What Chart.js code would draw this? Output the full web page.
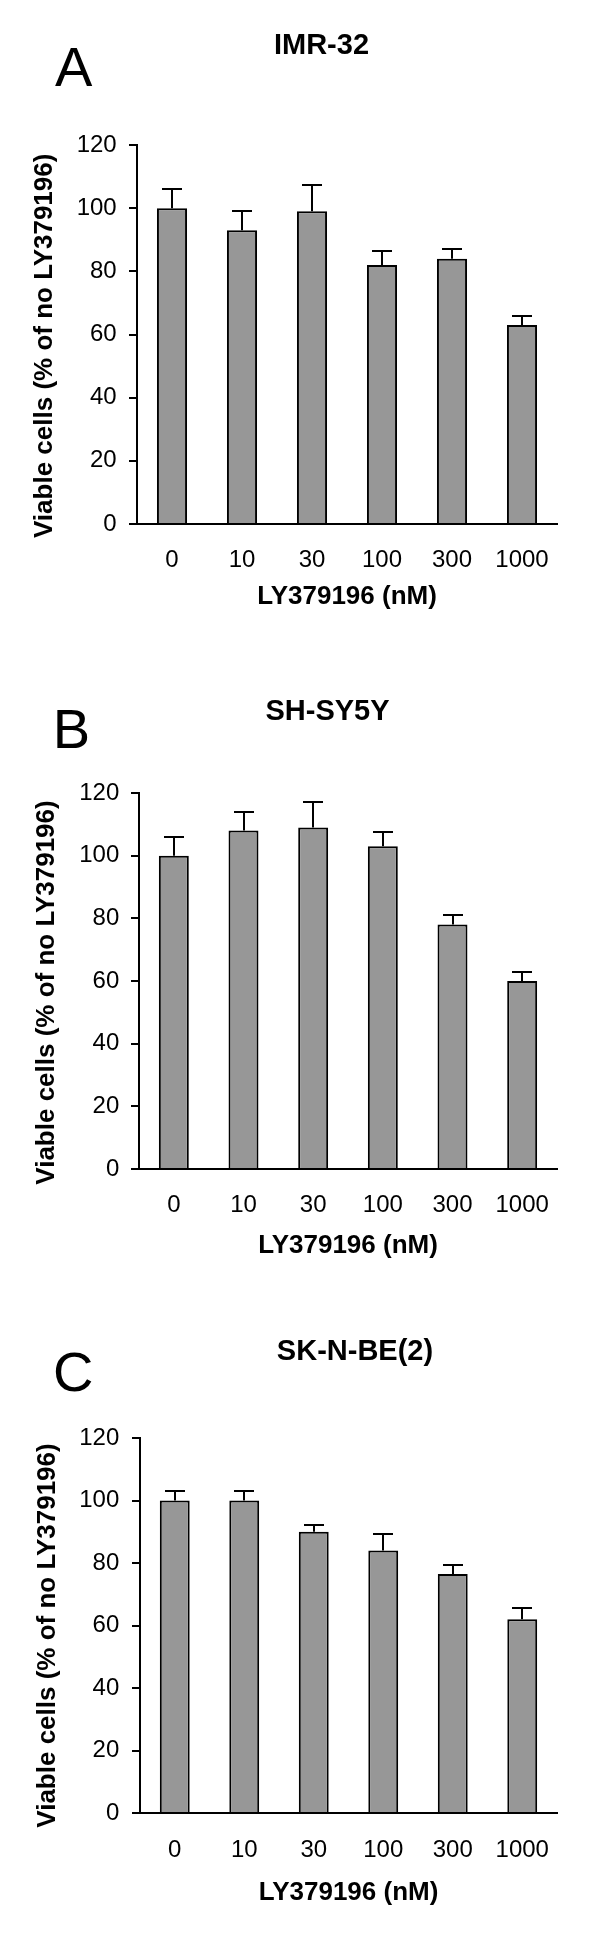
<!DOCTYPE html>
<html><head><meta charset="utf-8">
<script src="https://cdn.jsdelivr.net/npm/chart.js@4"></script>
<style>
html,body{margin:0;padding:0;background:#fff;}
#wrap{position:relative;width:600px;height:1945px;overflow:hidden;background:#fff;}
canvas{position:absolute;left:0;}
</style></head><body>
<div id="wrap">
<canvas id="cA" width="600" height="640" style="top:0px;width:600px;height:640px"></canvas>
<canvas id="cB" width="600" height="680" style="top:600px;width:600px;height:680px"></canvas>
<canvas id="cC" width="600" height="695" style="top:1250px;width:600px;height:695px"></canvas>
</div>
<script>
// ---- data ----
const categories = ['0', '10', '30', '100', '300', '1000'];
const panelLetters = ['A', 'B', 'C'];
const cellLines = ['IMR-32', 'SH-SY5Y', 'SK-N-BE(2)'];
const imr32Values = [100, 93, 99, 82, 84, 63];
const imr32Errors = [6, 6, 8.2, 4.5, 3, 3];
const shsy5yValues = [100, 108, 109, 103, 78, 60];
const shsy5yErrors = [6, 6, 8, 4.5, 3, 3];
const skbe2Values = [100, 100, 90, 84, 76.5, 62];
const skbe2Errors = [3, 3, 2.3, 5.3, 3, 3.7];
const yMin = 0, yMax = 120, yStep = 20;
const xTitle = 'LY379196 (nM)';
const yTitle = 'Viable cells (% of no LY379196)';

// ---- layout / style ----
const FONT = "'Liberation Sans', Arial, Helvetica, sans-serif";
const TEXT = '#000';
const panels = [
  {id: 'cA', letter: panelLetters[0], title: cellLines[0], values: imr32Values, errors: imr32Errors,
   area: {left: 137, right: 557, top: 145, bottom: 524}, canvasH: 640,
   yPad: 12.3, xPad: 22.4, xTitleMid: 596.7,
   letterPos: {left: 55, base: 86}, titlePos: {center: 321.5, base: 54}, yTitlePos: {base: 51.9, center: 345.8}},
  {id: 'cB', letter: panelLetters[1], title: cellLines[1], values: shsy5yValues, errors: shsy5yErrors,
   area: {left: 139, right: 557, top: 193, bottom: 569}, canvasH: 680,
   yPad: 11.7, xPad: 21.9, xTitleMid: 645.8,
   letterPos: {left: 56.7, base: 148.3}, titlePos: {center: 327.5, base: 120}, yTitlePos: {base: 53.6, center: 392.5}},
  {id: 'cC', letter: panelLetters[2], title: cellLines[2], values: skbe2Values, errors: skbe2Errors,
   area: {left: 140, right: 557, top: 188, bottom: 563}, canvasH: 695,
   yPad: 12.7, xPad: 22.6, xTitleMid: 642.9,
   letterPos: {left: 55, base: 141}, titlePos: {center: 355, base: 110}, yTitlePos: {base: 54.6, center: 385.5}}
];

function makeChart(p) {
  const xH = p.xTitleMid + 15.6 - p.area.bottom;
  const decor = {
    id: 'decor_' + p.id,
    afterDatasetsDraw(chart) {
      const ctx = chart.ctx;
      const meta = chart.getDatasetMeta(0);
      const ys = chart.scales.y;
      ctx.save();
      ctx.strokeStyle = '#000';
      ctx.lineWidth = 2;
      p.errors.forEach((e, i) => {
        const v = p.values[i];
        const x = Math.round(meta.data[i].x);
        const yb = ys.getPixelForValue(v);
        const yt = Math.round(ys.getPixelForValue(v + e));
        ctx.beginPath();
        ctx.moveTo(x, yb); ctx.lineTo(x, yt);
        ctx.moveTo(x - 10, yt); ctx.lineTo(x + 10, yt);
        ctx.stroke();
      });
      ctx.restore();
    },
    afterDraw(chart) {
      const ctx = chart.ctx;
      ctx.save();
      ctx.fillStyle = TEXT;
      ctx.textBaseline = 'alphabetic';
      // panel letter
      ctx.font = '56px ' + FONT;
      ctx.textAlign = 'left';
      const m = ctx.measureText(p.letter);
      ctx.fillText(p.letter, p.letterPos.left + m.actualBoundingBoxLeft, p.letterPos.base);
      // cell line title
      ctx.font = 'bold 29px ' + FONT;
      ctx.textAlign = 'center';
      ctx.fillText(p.title, p.titlePos.center, p.titlePos.base);
      // y axis title
      ctx.translate(p.yTitlePos.base, p.yTitlePos.center);
      ctx.rotate(-Math.PI / 2);
      ctx.font = 'bold 26px ' + FONT;
      ctx.textAlign = 'center';
      ctx.fillText(yTitle, 0, 0);
      ctx.restore();
    }
  };
  return new Chart(document.getElementById(p.id), {
    type: 'bar',
    data: {
      labels: categories,
      datasets: [{
        data: p.values,
        backgroundColor: '#979797',
        borderColor: '#000',
        borderWidth: 2,
        borderSkipped: 'start',
        categoryPercentage: 1,
        barPercentage: 0.43
      }]
    },
    options: {
      responsive: false,
      maintainAspectRatio: false,
      animation: false,
      devicePixelRatio: 1,
      layout: {padding: {left: 0, right: 600 - p.area.right, top: p.area.top, bottom: p.canvasH - p.area.bottom - xH}},
      plugins: {legend: {display: false}, tooltip: {enabled: false}, title: {display: false}},
      scales: {
        x: {
          type: 'category',
          offset: true,
          z: 1,
          grid: {display: false, drawTicks: false},
          border: {display: true, color: '#000', width: 2},
          ticks: {color: TEXT, font: {family: FONT, size: 24}, padding: p.xPad, maxRotation: 0, autoSkip: false},
          title: {display: true, text: xTitle, color: TEXT, font: {family: FONT, size: 26, weight: 'bold'}, padding: 0},
          afterFit: s => { s.height = xH; }
        },
        y: {
          min: yMin, max: yMax,
          z: 1,
          ticks: {stepSize: yStep, color: TEXT, font: {family: FONT, size: 24}, padding: p.yPad},
          grid: {display: true, drawOnChartArea: false, drawTicks: true, tickLength: 8, color: '#000', lineWidth: 2},
          border: {display: true, color: '#000', width: 2},
          title: {display: false},
          afterFit: s => { s.width = p.area.left; }
        }
      }
    },
    plugins: [decor]
  });
}
panels.forEach(makeChart);
</script>
</body></html>
